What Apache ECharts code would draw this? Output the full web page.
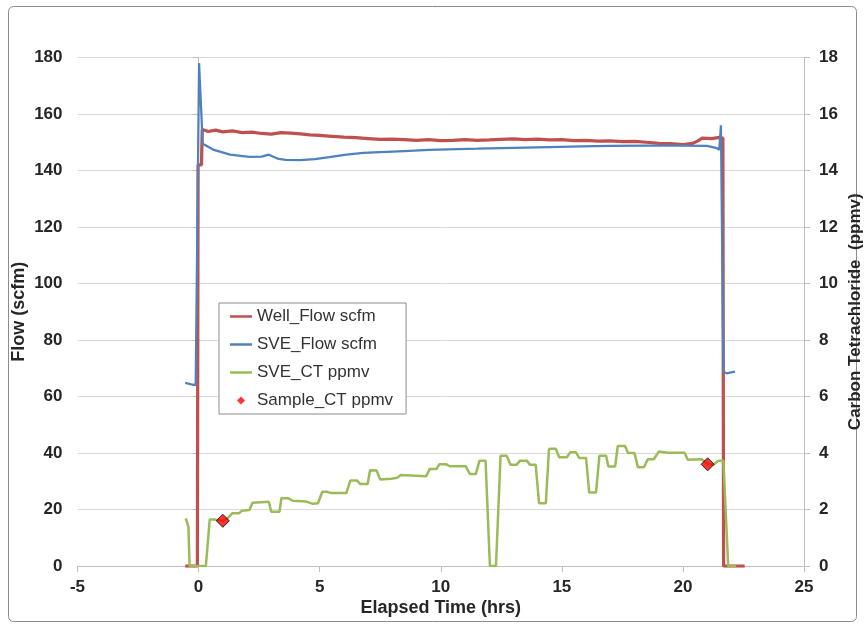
<!DOCTYPE html>
<html><head><meta charset="utf-8">
<script src="https://cdn.jsdelivr.net/npm/echarts@6/dist/echarts.min.js"></script>
<style>html,body{margin:0;padding:0;background:#fff}#c{width:865px;height:629px}</style>
</head><body><div id="c"></div>
<script>
// ---- data (elapsed hours, value) ----
const seriesNames = ['Well_Flow scfm', 'SVE_Flow scfm', 'SVE_CT ppmv', 'Sample_CT ppmv'];
const xAxisName = 'Elapsed Time (hrs)';
const yLeftName = 'Flow (scfm)';
const yRightName = 'Carbon Tetrachloride  (ppmv)';
const xRange = [-5, 25, 5];
const yLeftRange = [0, 180, 20];
const yRightRange = [0, 18, 2];

const wellFlow = [
  [-0.55,0],[-0.05,0],[-0.02,142],[0.12,142],[0.15,154.5],[0.4,153.8],[0.7,154.3],[1.0,153.7],
  [1.4,154.0],[1.8,153.4],[2.2,153.6],[2.6,153.1],[3.0,152.9],[3.4,153.4],[3.8,153.2],[4.2,153.0],
  [4.6,152.6],[5.0,152.4],[5.5,152.1],[6.0,151.8],[6.5,151.6],[7.0,151.3],[7.5,151.0],[8.0,151.1],
  [8.5,150.9],[9.0,150.7],[9.5,150.9],[10.0,150.6],[10.5,150.7],[11.0,150.9],[11.5,150.7],[12.0,150.8],
  [12.5,151.0],[13.0,151.2],[13.5,150.9],[14.0,151.1],[14.5,150.8],[15.0,150.9],[15.5,150.6],[16.0,150.7],
  [16.5,150.4],[17.0,150.5],[17.5,150.2],[18.0,150.3],[18.5,150.0],[19.0,149.6],[19.5,149.5],[20.0,149.2],
  [20.4,149.6],[20.6,150.4],[20.8,151.5],[21.2,151.3],[21.5,151.7],[21.65,151.5],[21.68,0],[22.55,0]
];
const sveFlow = [
  [-0.55,64.8],[-0.3,64.3],[-0.12,64.0],[0.02,178],[0.17,149.5],[0.6,147.4],[1.3,145.6],[2.1,144.8],
  [2.6,144.9],[2.9,145.6],[3.3,144.1],[3.6,143.8],[4.2,143.7],[4.8,144.0],[5.4,144.7],[6.1,145.6],
  [6.8,146.2],[7.5,146.5],[8.5,146.9],[9.5,147.3],[10.3,147.5],[11.5,147.7],[13.0,148.0],[14.5,148.3],
  [15.8,148.5],[17.0,148.7],[18.5,148.8],[20.0,148.8],[21.0,148.7],[21.4,147.9],[21.5,147.3],[21.57,156],
  [21.67,68.9],[21.8,68.2],[22.15,68.8]
];
const sveCT = [
  [-0.53,1.69],[-0.42,1.39],[-0.37,0],[0.30,0],[0.46,1.65],[0.64,1.65],[0.99,1.6],[1.2,1.69],[1.4,1.87],
  [1.68,1.87],[1.79,1.96],[2.1,1.98],[2.23,2.24],[2.9,2.27],[3.0,1.92],[3.34,1.92],[3.42,2.4],[3.69,2.4],
  [3.89,2.31],[4.45,2.28],[4.72,2.2],[4.93,2.22],[5.11,2.63],[5.28,2.63],[5.49,2.58],[6.1,2.58],[6.27,3.03],
  [6.54,3.03],[6.68,2.9],[6.98,2.9],[7.08,3.39],[7.35,3.38],[7.5,3.06],[7.95,3.09],[8.2,3.12],[8.35,3.22],
  [9.4,3.18],[9.54,3.43],[9.82,3.43],[9.94,3.6],[10.23,3.6],[10.37,3.53],[11.03,3.53],[11.2,3.26],[11.45,3.26],
  [11.6,3.73],[11.85,3.73],[12.03,0],[12.28,0],[12.47,3.9],[12.72,3.9],[12.88,3.58],[13.13,3.58],[13.27,3.73],
  [13.55,3.73],[13.69,3.58],[13.92,3.58],[14.06,2.22],[14.34,2.22],[14.47,4.15],[14.75,4.15],[14.89,3.85],
  [15.21,3.85],[15.35,4.03],[15.58,4.03],[15.72,3.82],[16.0,3.82],[16.13,2.6],[16.41,2.6],[16.55,3.9],
  [16.83,3.9],[16.92,3.52],[17.2,3.52],[17.31,4.25],[17.61,4.25],[17.73,4.0],[18.0,4.0],[18.14,3.5],
  [18.39,3.5],[18.55,3.78],[18.8,3.78],[19.0,4.05],[19.38,4.01],[20.07,4.01],[20.2,3.76],[20.77,3.78],
  [21.02,3.62],[21.25,3.58],[21.46,3.73],[21.67,3.73],[21.87,0],[22.2,0]
];
const sampleCT = [[1.0,1.6],[21.02,3.6]];

// ---- chart ----
const FONT = 'Liberation Sans, Arial, sans-serif';
const axisGray = '#bfbfbf';
const labelColor = '#262626';
const lineIcon = 'path://M0,0 L22,0 L22,2.5 L0,2.5 Z';
const diamondIcon = 'path://M5,0 L10,5 L5,10 L0,5 Z';
const chart = echarts.init(document.getElementById('c'), null, {renderer: 'canvas'});
const option = {
  animation: false,
  backgroundColor: '#ffffff',
  textStyle: {fontFamily: FONT},
  graphic: [{
    type: 'rect', silent: true, z: -1,
    shape: {x: 8.5, y: 6.5, width: 848, height: 615, r: 5},
    style: {fill: 'none', stroke: '#8c8c8c', lineWidth: 1}
  }],
  grid: {left: 77.5, right: 61, top: 57.5, bottom: 63, containLabel: false, outerBoundsMode: 'none'},
  legend: {
    orient: 'vertical', left: 219, top: 303,
    itemWidth: 22, itemHeight: 8, itemGap: 11, symbolKeepAspect: true,
    padding: [5, 13, 5, 11],
    borderColor: '#8c8c8c', borderWidth: 1, backgroundColor: '#fff',
    textStyle: {fontSize: 17, color: '#333', fontFamily: FONT},
    data: [
      {name: seriesNames[0], icon: lineIcon},
      {name: seriesNames[1], icon: lineIcon},
      {name: seriesNames[2], icon: lineIcon},
      {name: seriesNames[3], icon: diamondIcon, itemStyle: {color: '#ff0000', borderWidth: 0}}
    ]
  },
  xAxis: {
    type: 'value', min: xRange[0], max: xRange[1], interval: xRange[2],
    name: xAxisName, nameLocation: 'middle', nameGap: 33, nameMoveOverlap: false,
    nameTextStyle: {fontWeight: 'bold', fontSize: 18, color: labelColor, fontFamily: FONT},
    axisLine: {show: true, onZero: false, lineStyle: {color: axisGray, width: 1}},
    axisTick: {show: true, inside: false, length: 6, lineStyle: {color: axisGray}},
    axisLabel: {margin: 13, fontWeight: 'bold', fontSize: 17, color: labelColor, fontFamily: FONT},
    splitLine: {show: false}
  },
  yAxis: [{
    type: 'value', position: 'left', min: yLeftRange[0], max: yLeftRange[1], interval: yLeftRange[2],
    name: yLeftName, nameLocation: 'middle', nameGap: 49, nameRotate: 90, nameMoveOverlap: false,
    nameTextStyle: {fontWeight: 'bold', fontSize: 18, color: labelColor, fontFamily: FONT},
    axisLine: {show: true, lineStyle: {color: axisGray, width: 1}},
    axisTick: {show: true, length: 6, lineStyle: {color: axisGray}},
    axisLabel: {margin: 15, fontWeight: 'bold', fontSize: 17, color: labelColor, fontFamily: FONT},
    splitLine: {show: true, lineStyle: {color: '#d9d9d9', width: 1}}
  }, {
    type: 'value', position: 'right', min: yRightRange[0], max: yRightRange[1], interval: yRightRange[2],
    name: yRightName, nameLocation: 'middle', nameGap: 43, nameRotate: 90, nameMoveOverlap: false,
    nameTextStyle: {fontWeight: 'bold', fontSize: 17, color: labelColor, fontFamily: FONT},
    axisLine: {show: true, lineStyle: {color: axisGray, width: 1}},
    axisTick: {show: true, length: 6, lineStyle: {color: axisGray}},
    axisLabel: {margin: 15, fontWeight: 'bold', fontSize: 17, color: labelColor, fontFamily: FONT},
    splitLine: {show: false}
  }],
  series: [{
    name: seriesNames[0], type: 'line', yAxisIndex: 0, data: wellFlow,
    symbol: 'none', color: '#c0504d', lineStyle: {width: 3.25, color: '#c0504d'}, z: 2
  }, {
    name: seriesNames[1], type: 'line', yAxisIndex: 0, data: sveFlow,
    symbol: 'none', color: '#4f81bd', lineStyle: {width: 2.25, color: '#4f81bd'}, z: 3
  }, {
    name: seriesNames[2], type: 'line', yAxisIndex: 1, data: sveCT,
    symbol: 'none', color: '#9bbb59', lineStyle: {width: 2.5, color: '#9bbb59'}, z: 4
  }, {
    name: seriesNames[3], type: 'scatter', yAxisIndex: 1, data: sampleCT,
    symbol: 'diamond', symbolSize: 13, color: '#ff0000',
    itemStyle: {color: '#ff0000', borderColor: '#000', borderWidth: 1}, z: 5
  }]
};
chart.setOption(option);
</script>
</body></html>
